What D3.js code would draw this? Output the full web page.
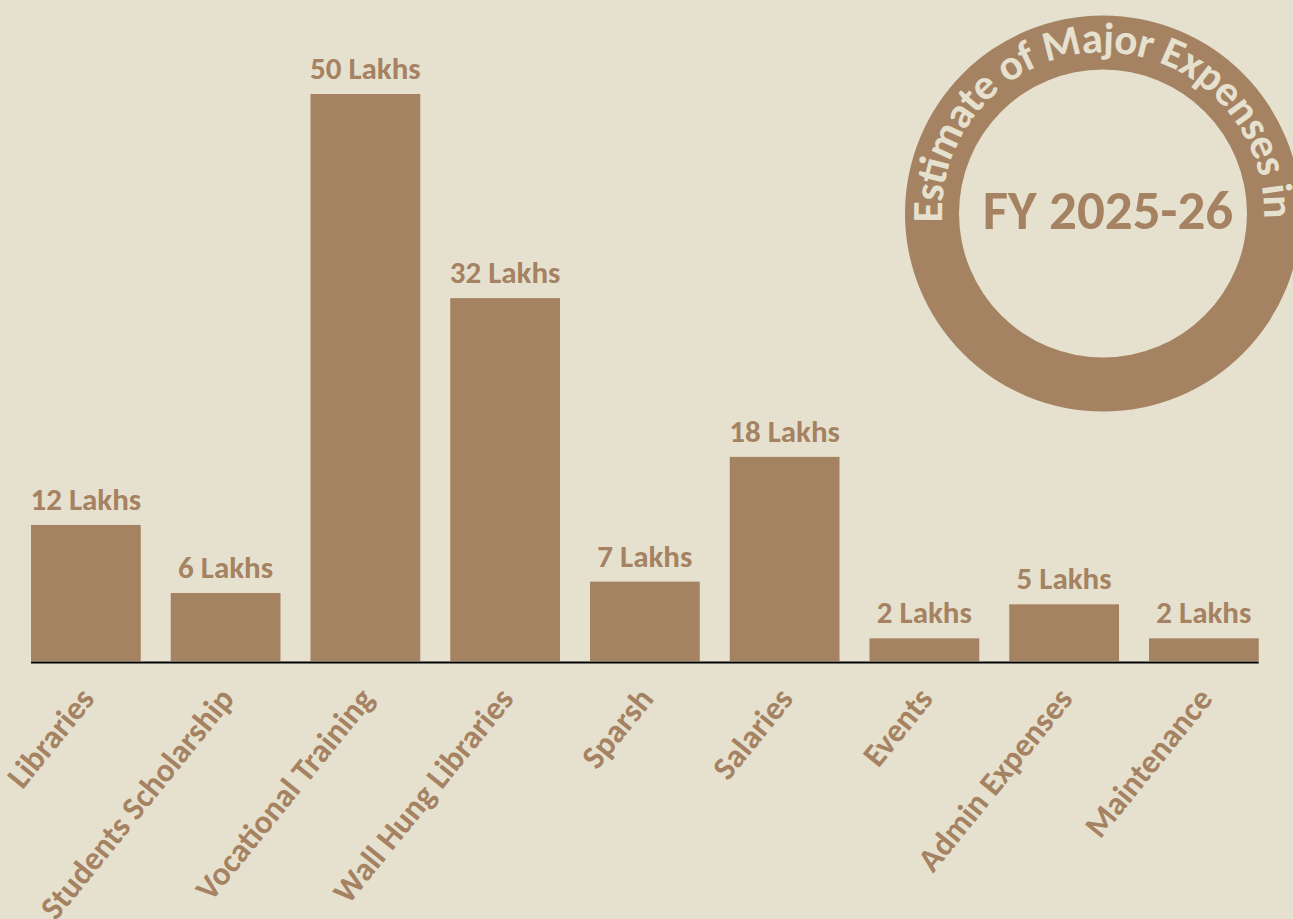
<!DOCTYPE html>
<html>
<head>
<meta charset="utf-8">
<script src="https://cdn.jsdelivr.net/npm/d3@7/dist/d3.min.js"></script>
<style>
  html, body { margin: 0; padding: 0; background: #E6E1CF; }
  svg { display: block; }
  text { font-family: Calibri, Carlito, Lato, sans-serif; font-weight: 700; }
</style>
</head>
<body>
<svg id="chart" width="1293" height="919"></svg>
<script>
// Expense heads and their estimated amounts (in Lakhs)
const categories = ["Libraries", "Students Scholarship", "Vocational Training", "Wall Hung Libraries",
  "Sparsh", "Salaries", "Events", "Admin Expenses", "Maintenance"];
const amounts = [12, 6, 50, 32, 7, 18, 2, 5, 2];
const unitLabel = "Lakhs";
const badgeArcText = "Estimate of Major Expenses in";
const badgeCenterText = "FY 2025-26";

const W = 1293, H = 919;
const bg = "#E6E1CF";
const brown = "#A58262";

const svg = d3.select("#chart");
svg.append("rect").attr("width", W).attr("height", H).attr("fill", bg);

const x = d3.scaleBand()
  .domain(categories)
  .range([16, 1273.75])
  .paddingInner(0.2146)
  .paddingOuter(0.1073);

const y = d3.scaleLinear()
  .domain([0, d3.max(amounts)])
  .range([661, 94]);

const data = categories.map((c, i) => ({ cat: c, val: amounts[i] }));

// Bars
svg.append("g").selectAll("rect")
  .data(data)
  .join("rect")
  .attr("x", d => x(d.cat))
  .attr("y", d => y(d.val))
  .attr("width", x.bandwidth())
  .attr("height", d => y(0) - y(d.val))
  .attr("fill", brown);

// Value labels above bars
svg.append("g").selectAll("text")
  .data(data)
  .join("text")
  .attr("x", d => x(d.cat) + x.bandwidth() / 2)
  .attr("y", d => y(d.val) - 15)
  .attr("text-anchor", "middle")
  .attr("font-size", 31)
  .attr("fill", brown)
  .text(d => `${d.val} ${unitLabel}`);

// Category axis
const xAxis = svg.append("g")
  .attr("transform", `translate(0,${y(0) + 1.5})`)
  .call(d3.axisBottom(x).tickSize(0).tickPadding(0));
xAxis.select(".domain")
  .attr("d", `M${x(categories[0])},0H${x(categories[categories.length - 1]) + x.bandwidth()}`)
  .attr("stroke", "#000")
  .attr("stroke-width", 2);
xAxis.selectAll(".tick text")
  .attr("font-size", 33)
  .attr("font-family", "Calibri, Carlito, Lato, sans-serif")
  .attr("font-weight", 700)
  .attr("fill", brown)
  .attr("text-anchor", "end")
  .attr("y", 0)
  .attr("dy", 0)
  .attr("transform", "translate(10,37) rotate(-51)");

// Badge: ring with curved title and fiscal year in the middle
const cx = 1103, cy = 213.5, rOuter = 198, rInner = 144;
const badge = svg.append("g").attr("transform", `translate(${cx},${cy})`);
badge.append("path")
  .attr("d", d3.arc().innerRadius(rInner).outerRadius(rOuter).startAngle(0).endAngle(2 * Math.PI)())
  .attr("fill", brown);

const rText = 161;
const a0 = (180 - 3.2) * Math.PI / 180;
const a1 = (360 + 3.2) * Math.PI / 180;
const arcPath = `M${rText * Math.cos(a0)},${rText * Math.sin(a0)} A${rText},${rText} 0 1 1 ${rText * Math.cos(a1)},${rText * Math.sin(a1)}`;
badge.append("path").attr("id", "badgeArc").attr("d", arcPath).attr("fill", "none");
badge.append("text")
  .attr("font-size", 43)
  .attr("fill", bg)
  .append("textPath")
  .attr("href", "#badgeArc")
  .attr("textLength", rText * (a1 - a0) - 4)
  .attr("lengthAdjust", "spacing")
  .text(badgeArcText);

badge.append("text")
  .attr("x", 5)
  .attr("y", 15)
  .attr("text-anchor", "middle")
  .attr("font-size", 55)
  .attr("fill", brown)
  .text(badgeCenterText);
</script>
</body>
</html>
